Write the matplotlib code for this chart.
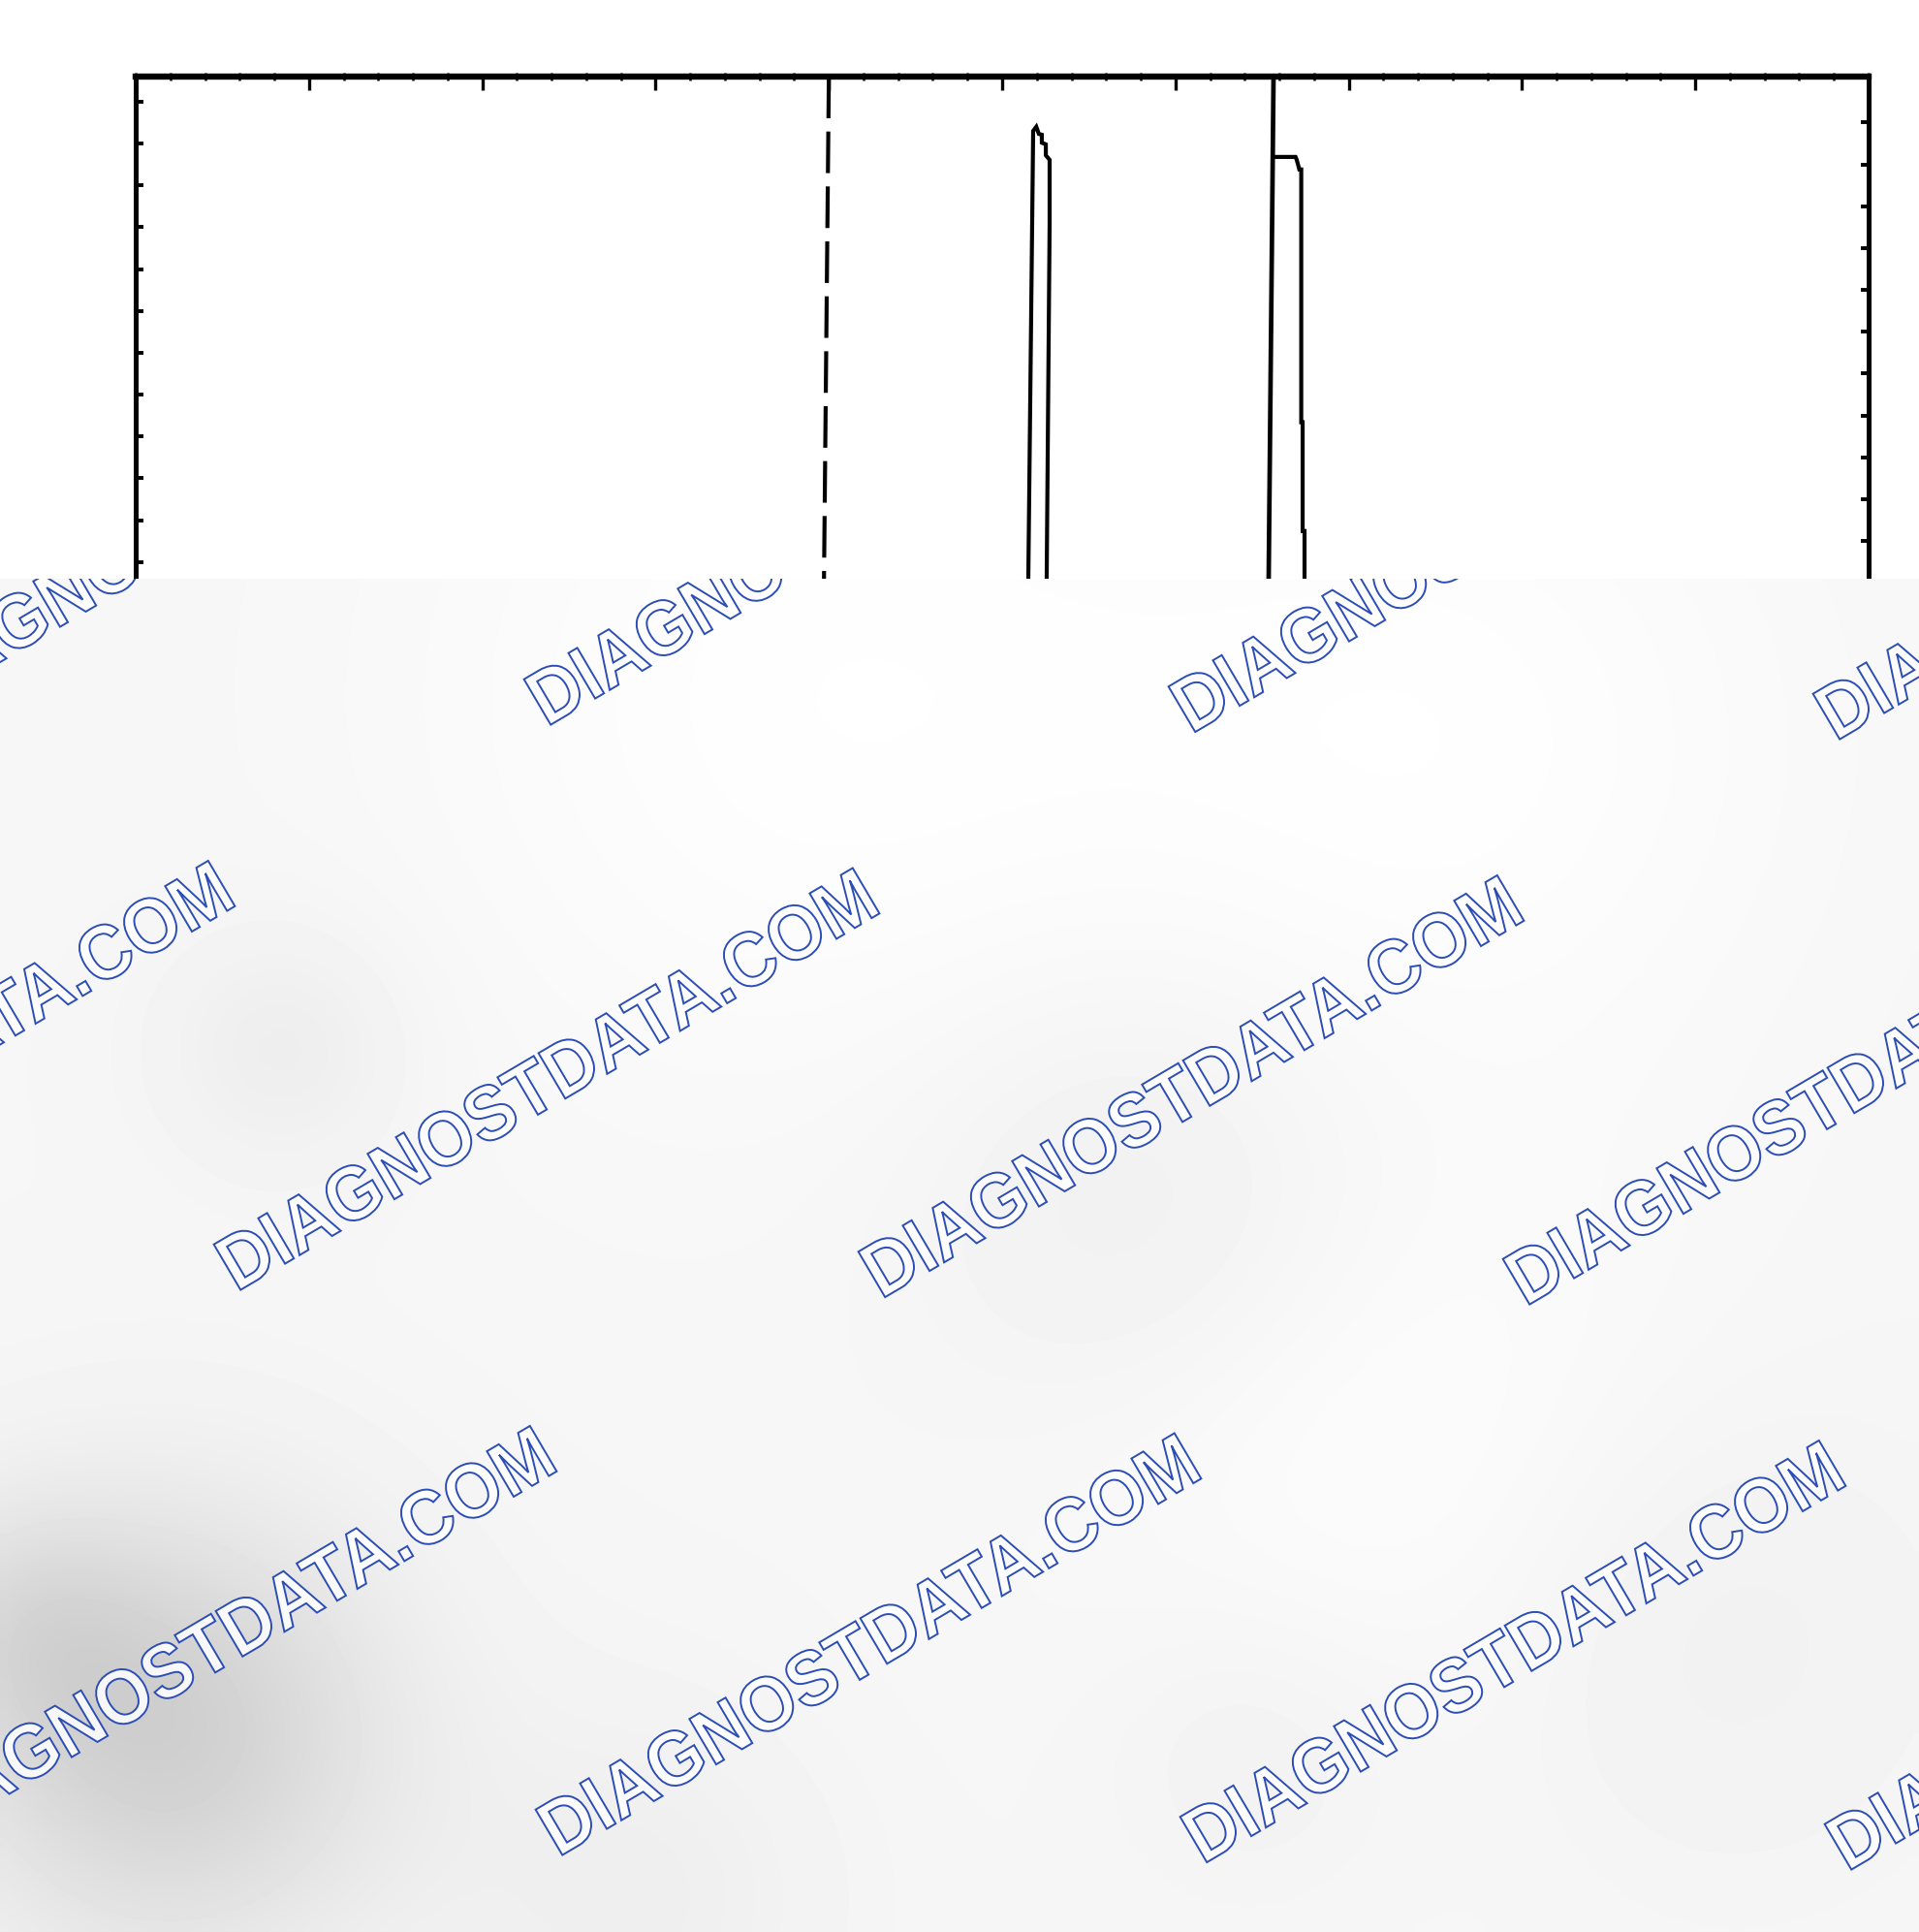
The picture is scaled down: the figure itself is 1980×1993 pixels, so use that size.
import numpy as np
import matplotlib
matplotlib.use("Agg")
import matplotlib.pyplot as plt
from matplotlib.textpath import TextPath
from matplotlib.font_manager import FontProperties
from matplotlib.patches import PathPatch
from matplotlib.transforms import Affine2D

# ---------------- data ----------------
x_limits = (0, 100)
y_limits = (0.6, 12.6)
x_major_ticks = [10, 20, 30, 40, 50, 60, 70, 80, 90]
x_minor_ticks = list(range(0, 101, 2))
left_ticks = [1, 2, 3, 4, 5, 6, 7, 8, 9, 10, 11, 12]
right_ticks = [1.5, 2.5, 3.5, 4.5, 5.5, 6.5, 7.5, 8.5, 9.5, 10.5, 11.5]

dash_x = [40.0, 39.72]
dash_y = [12.6, 0.6]

peak1_x = [51.51, 51.79, 51.97, 52.12, 52.29, 52.29, 52.52, 52.52, 52.74, 52.74, 52.57]
peak1_y = [0.6, 11.30, 11.40, 11.23, 11.21, 11.02, 10.98, 10.72, 10.61, 9.10, 0.6]

peak2_edge_x = [65.66, 65.38]
peak2_edge_y = [12.6, 0.6]
peak2_x = [65.66, 66.93, 67.00, 67.15, 67.26, 67.26, 67.34, 67.34, 67.45, 67.45]
peak2_y = [10.68, 10.68, 10.61, 10.38, 10.38, 4.34, 4.34, 1.74, 1.74, 0.6]

watermark_text = "DIAGNOSTDATA.COM"

# ---------------- figure ----------------
W, H = 1980, 1993
fig = plt.figure(figsize=(W / 100, H / 100), dpi=100)
fig.patch.set_facecolor("white")

panel_top = 597  # pixel row where the grey panel starts
ax = fig.add_axes([140 / W, 1 - panel_top / H, (1928 - 140) / W, (panel_top - 79) / H])
ax.set_xlim(*x_limits)
ax.set_ylim(*y_limits)
ax.set_facecolor("white")
for s in ("top", "left", "right"):
    ax.spines[s].set_color("black")
ax.spines["top"].set_linewidth(4.6)
ax.spines["left"].set_linewidth(3.6)
ax.spines["right"].set_linewidth(3.6)
ax.spines["bottom"].set_visible(False)

ax.xaxis.tick_top()
ax.set_xticks(x_major_ticks)
ax.set_xticks(x_minor_ticks, minor=True)
ax.tick_params(axis="x", which="major", direction="in", length=10, width=2.4,
               color="black", labeltop=False, labelbottom=False)
ax.tick_params(axis="x", which="minor", direction="inout", length=6, width=1.8,
               color="black")
ax.set_yticks(left_ticks)
ax.tick_params(axis="y", which="major", direction="in", length=6, width=2.8,
               color="black", labelleft=False)

ax2 = ax.twinx()
ax2.set_ylim(*y_limits)
ax2.set_yticks(right_ticks)
ax2.tick_params(axis="y", direction="in", length=6, width=2.8, color="black",
                labelright=False)
for s in ax2.spines.values():
    s.set_visible(False)

ax.plot(dash_x, dash_y, color="black", lw=3.0, dashes=(10.3, 3.3), solid_capstyle="butt")
ax.plot(peak1_x, peak1_y, color="black", lw=3.0, solid_joinstyle="miter")
ax.plot(peak2_edge_x, peak2_edge_y, color="black", lw=3.4)
ax.plot(peak2_x, peak2_y, color="black", lw=3.0, solid_joinstyle="miter")

# ---------------- grey watermark panel ----------------
pax = fig.add_axes([0, 0, 1, 1 - panel_top / H], zorder=5)
pax.set_xlim(0, W)
pax.set_ylim(H, panel_top)
pax.axis("off")

gx = np.linspace(0, W, 220)
gy = np.linspace(panel_top, H, 160)
GX, GY = np.meshgrid(gx, gy)
field = np.full_like(GX, 0.965)
blobs = [  # (x, y, sigma, amplitude) soft shading of the panel
    (850, 720, 300, 0.03), (1500, 760, 260, 0.028), (1450, 1520, 240, 0.025),
    (170, 1790, 160, -0.15), (20, 1680, 90, -0.06), (290, 1080, 90, -0.035),
    (1180, 1230, 170, -0.03), (1750, 1680, 180, -0.025), (650, 1960, 140, -0.03),
    (1300, 1800, 120, -0.02),
]
for bx, by, sg, amp in blobs:
    field += amp * np.exp(-((GX - bx) ** 2 + (GY - by) ** 2) / (2 * sg ** 2))
field = np.clip(field, 0, 1)
pax.imshow(field, cmap="gray", vmin=0, vmax=1, extent=(0, W, H, panel_top),
           interpolation="bilinear", aspect="auto", zorder=0)

fp = FontProperties(family="Liberation Sans", weight="bold")
tp = TextPath((0, 0), watermark_text, size=100, prop=fp)
ext = tp.get_extents()
sx = 765 / ext.width
sy = 56 / ext.height
angle = 30.5
for r in range(3):
    base_x = 884 - (r % 2) * 326 + r * 6
    base_y = 530 + r * 583
    for k in range(-1, 3):
        cx = base_x + k * 665
        cy = base_y + k * 7.5
        tr = (Affine2D()
              .translate(-(ext.x0 + ext.width / 2), -(ext.y0 + ext.height / 2))
              .scale(sx, -sy)
              .rotate_deg(-angle)
              .translate(cx, cy))
        patch = PathPatch(tr.transform_path(tp), facecolor=(1, 1, 1, 0.85),
                          edgecolor="#2b4db5", lw=1.4, zorder=2)
        pax.add_patch(patch)

fig.savefig("out.png", dpi=100, facecolor="white")
